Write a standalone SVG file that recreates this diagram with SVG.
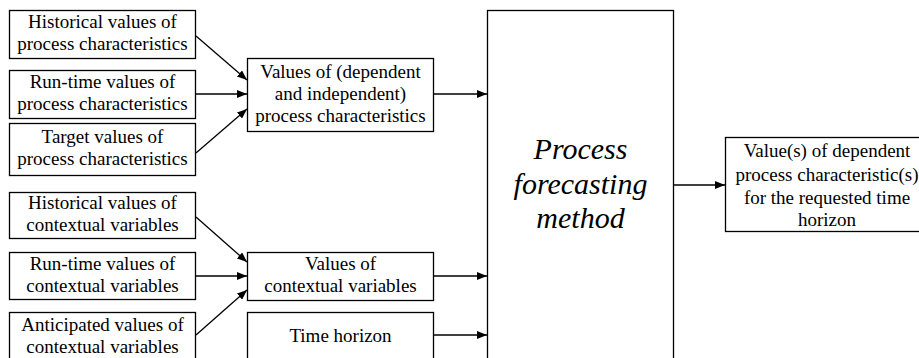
<svg xmlns="http://www.w3.org/2000/svg" width="919" height="358" viewBox="0 0 919 358">
<defs>
<style>
.box{fill:#fff;stroke:#000;stroke-width:1.3}
.c{stroke:#000;stroke-width:1.3;fill:none;marker-end:url(#ah)}
.t{font-family:'Liberation Serif',serif;font-size:19px;fill:#000;text-anchor:middle}
.big{font-family:'Liberation Serif',serif;font-size:30px;font-style:italic;fill:#000;text-anchor:middle}
</style>
<marker id="ah" viewBox="0 0 10 8" refX="10" refY="4" markerWidth="10" markerHeight="8" markerUnits="userSpaceOnUse" orient="auto">
<path d="M0,0 L10,4 L0,8 Z" fill="#000"/>
</marker>
</defs>
<rect width="919" height="358" fill="#fff"/>
<g id="connectors">
<line class="c" x1="196" y1="36" x2="247" y2="80"/>
<line class="c" x1="196" y1="94" x2="247" y2="94"/>
<line class="c" x1="196" y1="153" x2="247" y2="109"/>
<line class="c" x1="433" y1="94" x2="487" y2="94"/>
<line class="c" x1="196" y1="217" x2="247" y2="262"/>
<line class="c" x1="196" y1="276" x2="247" y2="276"/>
<line class="c" x1="196" y1="335" x2="247" y2="290"/>
<line class="c" x1="433" y1="276" x2="487" y2="276"/>
<line class="c" x1="433" y1="335" x2="487" y2="335"/>
<line class="c" x1="673" y1="185" x2="725" y2="185"/>
</g>
<g id="hist-proc"><rect class="box" x="9.5" y="10.5" width="186" height="48"/><text class="t" x="102.5" y="28">Historical values of</text><text class="t" x="102.5" y="50">process characteristics</text></g>
<g id="run-proc"><rect class="box" x="9.5" y="70.5" width="186" height="48"/><text class="t" x="102.5" y="88">Run-time values of</text><text class="t" x="102.5" y="110">process characteristics</text></g>
<g id="target-proc"><rect class="box" x="9.5" y="123.5" width="186" height="52"/><text class="t" x="102.5" y="143">Target values of</text><text class="t" x="102.5" y="165">process characteristics</text></g>
<g id="hist-ctx"><rect class="box" x="9.5" y="192.5" width="186" height="46"/><text class="t" x="102.5" y="209">Historical values of</text><text class="t" x="102.5" y="231">contextual variables</text></g>
<g id="run-ctx"><rect class="box" x="9.5" y="252.5" width="186" height="47"/><text class="t" x="102.5" y="270">Run-time values of</text><text class="t" x="102.5" y="292">contextual variables</text></g>
<g id="ant-ctx"><rect class="box" x="9.5" y="312.5" width="186" height="60"/><text class="t" x="102.5" y="331">Anticipated values of</text><text class="t" x="102.5" y="353">contextual variables</text></g>
<g id="vals-proc"><rect class="box" x="247.5" y="58.5" width="186" height="73"/><text class="t" x="340.5" y="78">Values of (dependent</text><text class="t" x="340.5" y="100">and independent)</text><text class="t" x="340.5" y="122">process characteristics</text></g>
<g id="vals-ctx"><rect class="box" x="247.5" y="252.5" width="186" height="48"/><text class="t" x="340.5" y="270">Values of</text><text class="t" x="340.5" y="292">contextual variables</text></g>
<g id="time"><rect class="box" x="247.5" y="312.5" width="186" height="60"/><text class="t" x="340.5" y="342">Time horizon</text></g>
<g id="method"><rect class="box" x="487.5" y="10.5" width="186" height="370"/><text class="big" x="580.5" y="159">Process</text><text class="big" x="580.5" y="194">forecasting</text><text class="big" x="580.5" y="228">method</text></g>
<g id="output"><rect class="box" x="725.5" y="137.5" width="204" height="94"/><text class="t" x="827" y="157">Value(s) of dependent</text><text class="t" x="827" y="181">process characteristic(s)</text><text class="t" x="827" y="204">for the requested time</text><text class="t" x="827" y="226">horizon</text></g>
</svg>
